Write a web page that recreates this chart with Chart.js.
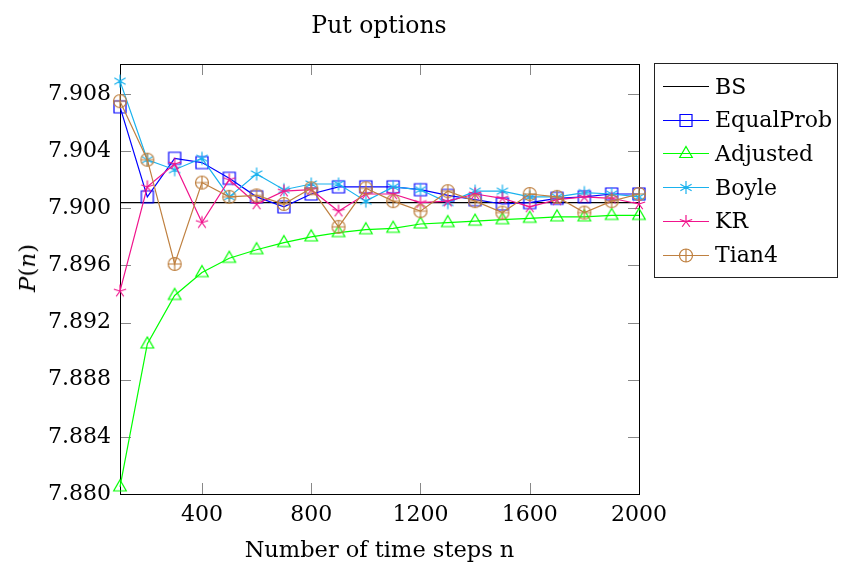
<!DOCTYPE html>
<html>
<head>
<meta charset="utf-8">
<script src="https://cdn.jsdelivr.net/npm/chart.js@4.4.1/dist/chart.umd.min.js"></script>
<style>
  body { margin: 0; background: #fff; }
  #wrap { position: relative; width: 841px; height: 567px; font-family: 'DejaVu Serif', serif; color: #000; }
  #title { position: absolute; left: 379px; top: 25px; transform: translate(-50%, -50%); font-size: 23.5px; white-space: nowrap; }
  #ylab { position: absolute; left: 27px; top: 268px; transform: translate(-50%, -50%) rotate(-90deg); font-size: 23px; white-space: nowrap; }
  #legend { position: absolute; left: 654px; top: 63px; width: 184px; height: 215px; border: 1px solid #222; box-sizing: border-box; background: #fff; }
  .row { position: absolute; left: 0; height: 30px; display: flex; align-items: center; font-size: 22px; white-space: nowrap; }
  .row canvas { margin-left: 8px; margin-right: 6px; }
</style>
</head>
<body>
<div id="wrap">
  <canvas id="canvas" width="841" height="567"></canvas>
  <div id="title">Put options</div>
  <div id="ylab"><i>P</i>(<i>n</i>)</div>
  <div id="legend"></div>
</div>
<script>
// time steps on the x axis
var steps = [100, 200, 300, 400, 500, 600, 700, 800, 900, 1000,
    1100, 1200, 1300, 1400, 1500, 1600, 1700, 1800, 1900, 2000];

var bsPrice = 7.9004;

var equalProb = [7.9071, 7.9008, 7.9035, 7.9032, 7.9021, 7.9008, 7.9001, 7.9010, 7.9015, 7.9015,
    7.9015, 7.9013, 7.9009, 7.9006, 7.9003, 7.9004, 7.9007, 7.9008, 7.9010, 7.9010];
var adjusted = [7.8805, 7.8905, 7.8939, 7.8955, 7.8965, 7.8971, 7.8976, 7.8980, 7.8983, 7.8985,
    7.8986, 7.8989, 7.8990, 7.8991, 7.8992, 7.8993, 7.8994, 7.8994, 7.8995, 7.8995];
var boyle = [7.9089, 7.9034, 7.9027, 7.9035, 7.9008, 7.9024, 7.9013, 7.9017, 7.9017, 7.9005,
    7.9015, 7.9013, 7.9004, 7.9012, 7.9012, 7.9008, 7.9008, 7.9011, 7.9010, 7.9008];
var kr = [7.8942, 7.9015, 7.9031, 7.8990, 7.9020, 7.9003, 7.9012, 7.9013, 7.8998, 7.9010,
    7.9010, 7.9004, 7.9005, 7.9010, 7.9007, 7.9001, 7.9006, 7.9008, 7.9007, 7.9003];
var tian4 = [7.9075, 7.9034, 7.8961, 7.9018, 7.9008, 7.9009, 7.9003, 7.9014, 7.8987, 7.9014,
    7.9005, 7.8998, 7.9012, 7.9005, 7.8997, 7.9010, 7.9008, 7.8997, 7.9005, 7.9010];

var xTicks = [400, 800, 1200, 1600, 2000];
var yTicks = [7.880, 7.884, 7.888, 7.892, 7.896, 7.900, 7.904, 7.908];

var seriesNames = ['BS', 'EqualProb', 'Adjusted', 'Boyle', 'KR', 'Tian4'];
var seriesColors = ['#000000', '#0000ff', '#00ff00', '#1ab2ee', '#f0148c', '#bf8040'];
var seriesMarks = [null, 'square', 'triangle', 'asterisk', 'star', 'oplus'];

function drawMark(c, kind, cx, cy, color) {
    c.strokeStyle = color;
    c.lineWidth = 1.2;
    c.beginPath();
    if (kind == 'square') {
        c.rect(cx - 6, cy - 6, 12, 12);
    } else if (kind == 'triangle') {
        c.moveTo(cx, cy - 7);
        c.lineTo(cx + 6.3, cy + 4);
        c.lineTo(cx - 6.3, cy + 4);
        c.closePath();
    } else if (kind == 'asterisk' || kind == 'star') {
        var n = kind == 'asterisk' ? 6 : 5;
        for (var i = 0; i < n; i++) {
            var a = -Math.PI / 2 + i * 2 * Math.PI / n;
            c.moveTo(cx, cy);
            c.lineTo(cx + 6.5 * Math.cos(a), cy + 6.5 * Math.sin(a));
        }
    } else if (kind == 'oplus') {
        c.arc(cx, cy, 6.5, 0, 2 * Math.PI);
        c.moveTo(cx - 6.5, cy); c.lineTo(cx + 6.5, cy);
        c.moveTo(cx, cy - 6.5); c.lineTo(cx, cy + 6.5);
    }
    c.stroke();
}

function markImage(kind, color) {
    var cv = document.createElement('canvas');
    cv.width = 18; cv.height = 18;
    drawMark(cv.getContext('2d'), kind, 9, 9, color);
    return cv;
}

function toPoints(values) {
    return values.map(function(v, i) { return {x: steps[i], y: v}; });
}

var seriesData = [
    [{x: steps[0], y: bsPrice}, {x: steps[steps.length - 1], y: bsPrice}],
    toPoints(equalProb), toPoints(adjusted), toPoints(boyle), toPoints(kr), toPoints(tian4)
];

var datasets = seriesNames.map(function(name, i) {
    return {
        label: name,
        data: seriesData[i],
        borderColor: seriesColors[i],
        backgroundColor: seriesColors[i],
        borderWidth: 1.2,
        tension: 0,
        clip: false,
        order: seriesNames.length - i,
        pointStyle: seriesMarks[i] ? markImage(seriesMarks[i], seriesColors[i]) : false,
        pointRadius: seriesMarks[i] ? 6 : 0
    };
});

// frame and inward ticks like the pgfplots axis
var framePlugin = {
    id: 'frame',
    beforeDatasetsDraw: function(chart) {
        var c = chart.ctx, a = chart.chartArea;
        var xs = chart.scales.x, ys = chart.scales.y;
        c.save();
        c.strokeStyle = '#888';
        c.lineWidth = 1;
        c.beginPath();
        xTicks.forEach(function(t) {
            var px = Math.round(xs.getPixelForValue(t)) + 0.5;
            c.moveTo(px, a.bottom); c.lineTo(px, a.bottom - 11);
            c.moveTo(px, a.top); c.lineTo(px, a.top + 11);
        });
        yTicks.forEach(function(t) {
            var py = Math.round(ys.getPixelForValue(t)) + 0.5;
            c.moveTo(a.left, py); c.lineTo(a.left + 11, py);
            c.moveTo(a.right, py); c.lineTo(a.right - 11, py);
        });
        c.stroke();
        c.strokeStyle = '#000';
        c.strokeRect(Math.round(a.left) + 0.5, Math.round(a.top) + 0.5,
            Math.round(a.right - a.left), Math.round(a.bottom - a.top));
        c.restore();
    }
};

Chart.defaults.font.family = "'DejaVu Serif', serif";
Chart.defaults.font.size = 22;
Chart.defaults.color = '#000';

window.onload = function() {
    var ctx = document.getElementById('canvas').getContext('2d');
    window.myChart = new Chart(ctx, {
        type: 'line',
        data: {datasets: datasets},
        options: {
            responsive: false,
            animation: false,
            devicePixelRatio: 1,
            layout: {padding: {top: 64, right: 202, left: 0, bottom: 0}},
            plugins: {legend: {display: false}, tooltip: {enabled: false}, title: {display: false}},
            scales: {
                x: {
                    type: 'linear',
                    min: 100, max: 2000,
                    grid: {display: false, drawTicks: false},
                    border: {display: false},
                    afterBuildTicks: function(s) { s.ticks = xTicks.map(function(v) { return {value: v}; }); },
                    afterFit: function(s) { s.height = 73; },
                    ticks: {padding: 8, maxRotation: 0, callback: function(v) { return String(v); }},
                    title: {display: true, text: 'Number of time steps n', font: {size: 22.5}, padding: {top: 0, bottom: 2}}
                },
                y: {
                    min: 7.880, max: 7.9101,
                    grid: {display: false, drawTicks: false},
                    border: {display: false},
                    afterBuildTicks: function(s) { s.ticks = yTicks.map(function(v) { return {value: v}; }); },
                    afterFit: function(s) { s.width = 120; },
                    ticks: {padding: 9, callback: function(v) { return v.toFixed(3); }}
                }
            }
        },
        plugins: [framePlugin]
    });

    // legend box
    var legend = document.getElementById('legend');
    seriesNames.forEach(function(name, i) {
        var row = document.createElement('div');
        row.className = 'row';
        row.style.top = (7 + i * 33.7) + 'px';
        var cv = document.createElement('canvas');
        cv.width = 46; cv.height = 20;
        var c = cv.getContext('2d');
        c.strokeStyle = seriesColors[i];
        c.lineWidth = 1.2;
        c.beginPath(); c.moveTo(0, 10.5); c.lineTo(46, 10.5); c.stroke();
        if (seriesMarks[i]) drawMark(c, seriesMarks[i], 23, 10.5, seriesColors[i]);
        var label = document.createElement('span');
        label.textContent = name;
        row.appendChild(cv);
        row.appendChild(label);
        legend.appendChild(row);
    });
};
</script>
</body>
</html>
